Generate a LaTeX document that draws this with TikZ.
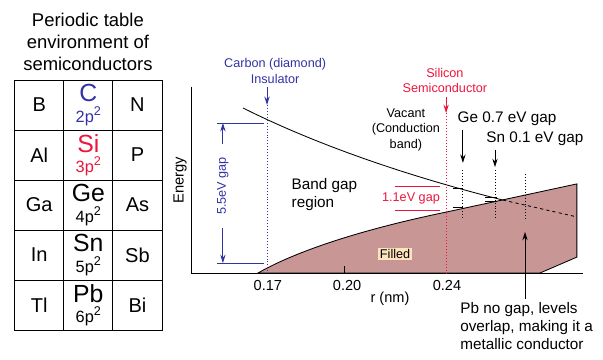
\documentclass[tikz,border=0pt]{standalone}
\usepackage{fontspec}
\setmainfont{Liberation Sans}
\usepackage{xcolor}
\usetikzlibrary{arrows.meta, positioning, calc}
\definecolor{insblue}{RGB}{50,50,165}
\definecolor{semired}{RGB}{238,20,60}
\definecolor{fillband}{RGB}{201,150,150}
\definecolor{filltag}{RGB}{253,228,190}
\tikzset{
  cell/.style    = {rectangle, draw, thick, minimum width=1.637cm,
                    minimum height=1.667cm, inner sep=0pt, font=\fontsize{19}{20}\selectfont},
  elem/.style    = {cell, align=center, font=\fontsize{15.5}{19.5}\selectfont},
  note/.style    = {align=center, font=\fontsize{12}{15}\selectfont},
  bignote/.style = {align=left, font=\fontsize{14.5}{17}\selectfont},
  ticklab/.style = {font=\fontsize{13.8}{15}\selectfont},
  arrow/.style   = {thick, -{Stealth[length=8pt, width=5pt]}},
  level/.style   = {thick, dotted},
}
\newcommand{\bigsym}[1]{{\fontsize{23.5}{19.5}\selectfont #1}}
\newcommand{\shellsq}{\raisebox{6.5pt}{\fontsize{12}{12}\selectfont 2}}

\begin{document}
\begin{tikzpicture}
  \useasboundingbox (0,0) rectangle (20.1,-11.967);

  %% Title and table
  \node[align=center, font=\fontsize{17.5}{20.8}\selectfont] (title) at (2.93,-1.4)
       {Periodic table\\environment of\\semiconductors};

  \node[cell] (elB)  at (1.308,-3.5) {B};
  \node[elem, text=insblue] (elC) at (2.945,-3.5) {\bigsym{C}\\2p\shellsq};
  \node[cell] (elN)  at (4.582,-3.5) {N};

  \node[cell] (elAl) at (1.308,-5.167) {Al};
  \node[elem, text=semired] (elSi) at (2.945,-5.167) {\bigsym{Si}\\3p\shellsq};
  \node[cell] (elP)  at (4.582,-5.167) {P};

  \node[cell] (elGa) at (1.308,-6.833) {Ga};
  \node[elem] (elGe) at (2.945,-6.833) {\bigsym{Ge}\\4p\shellsq};
  \node[cell] (elAs) at (4.582,-6.833) {As};

  \node[cell] (elIn) at (1.308,-8.5) {In};
  \node[elem] (elSn) at (2.945,-8.5) {\bigsym{Sn}\\5p\shellsq};
  \node[cell] (elSb) at (4.582,-8.5) {Sb};

  \node[cell] (elTl) at (1.308,-10.167) {Tl};
  \node[elem] (elPb) at (2.945,-10.167) {\bigsym{Pb}\\6p\shellsq};
  \node[cell] (elBi) at (4.582,-10.167) {Bi};

  %% Filled band
  \draw[thick, fill=fillband] (8.6,-9.1) .. controls (10.0,-8.3) and (12.3,-7.6) .. (14.87,-7.07)
       -- (19.23,-6.13) -- (19.23,-8.57) -- (18.0,-9.1) -- cycle;

  %% Conduction band edge
  \draw[thick] (8.1,-3.6) .. controls (10.5,-4.8) and (13.5,-5.85) .. (16.77,-6.67);
  \draw[thick, dashed] (16.77,-6.67) -- (19.23,-7.23);

  %% Axes
  \coordinate (orig) at (6.39,-9.1);
  \coordinate (ytop) at (6.39,-2.9);
  \coordinate (xend) at (19.43,-9.1);
  \draw[thick] (ytop) -- (orig) -- (xend);
  \draw[thick] (11.47,-9.1) -- ++(0,0.23);
  \node[rotate=90, font=\fontsize{14}{15}\selectfont] (energy) at (6.0,-6.0) {Energy};
  \node[ticklab] (t17) at (8.93,-9.5)  {0.17};
  \node[ticklab] (t20) at (11.57,-9.5) {0.20};
  \node[ticklab] (t24) at (14.9,-9.5)  {0.24};
  \node[ticklab] (rnm) at (13.0,-9.97) {r (nm)};

  %% Carbon
  \node[note, text=insblue] (carbon) at (9.17,-2.37) {Carbon (diamond)\\Insulator};
  \coordinate (cTop) at (8.9,-3.5);
  \coordinate (cBot) at (8.9,-9.1);
  \draw[arrow, insblue] (carbon.south -| cTop) -- (cTop);
  \draw[level, insblue] (cTop) -- (cBot);

  \coordinate (gTopL) at (7.23,-4.1);
  \coordinate (gTopR) at (8.8,-4.1);
  \coordinate (gBotL) at (7.23,-8.77);
  \coordinate (gBotR) at (8.8,-8.77);
  \draw[thick, insblue] (gTopL) -- (gTopR);
  \draw[thick, insblue] (gBotL) -- (gBotR);
  \node[note, text=insblue, rotate=90, outer xsep=9pt] (gapC) at (7.43,-6.2) {5.5eV gap};
  \draw[arrow, insblue] (gapC.east) -- (gapC.east |- gTopL);
  \draw[arrow, insblue] (gapC.west) -- (gapC.west |- gBotL);

  %% Silicon
  \node[note, text=semired] (silicon) at (14.83,-2.68) {Silicon\\Semiconductor};
  \coordinate (sTop) at (14.87,-3.77);
  \coordinate (sBot) at (14.87,-9.1);
  \draw[arrow, semired] (silicon.south -| sTop) -- (sTop);
  \draw[level, semired] (sTop) -- (sBot);

  \coordinate (siTopL) at (13.17,-6.2);
  \coordinate (siTopR) at (14.67,-6.2);
  \coordinate (siBotL) at (13.17,-7.03);
  \coordinate (siBotR) at (14.67,-7.03);
  \draw[thick, semired] (siTopL) -- (siTopR);
  \draw[thick, semired] (siBotL) -- (siBotR);
  \node[note, text=semired] (gapSi) at (13.7,-6.6) {1.1eV gap};

  %% Region labels
  \node[note] (vacant) at (13.53,-4.33) {Vacant\\(Conduction\\band)};
  \node[bignote, anchor=west] (bandgap) at (9.6,-6.5) {Band gap\\region};
  \node[note, fill=filltag, inner sep=1.5pt] (filled) at (13.17,-8.47) {Filled};

  %% Ge, Sn, Pb
  \node[bignote] (geNote) at (16.9,-3.97)  {Ge 0.7 eV gap};
  \node[bignote] (snNote) at (17.83,-4.63) {Sn 0.1 eV gap};
  \coordinate (geTip) at (15.43,-5.43);
  \coordinate (snTip) at (16.5,-5.57);
  \draw[arrow] (geNote.south -| geTip) -- (geTip);
  \draw[arrow] (snNote.south -| snTip) -- (snTip);
  \draw[level] (15.43,-5.67) -- (15.43,-7.33);
  \draw[level] (16.5,-5.67)  -- (16.5,-7.33);
  \draw[level] (17.53,-5.8)  -- (17.53,-7.33);
  \draw[thick] (15.1,-6.27)  -- (15.43,-6.27);
  \draw[thick] (15.1,-6.93)  -- (15.43,-6.93);
  \draw[thick] (16.17,-6.58) -- (16.57,-6.58);
  \draw[thick] (16.17,-6.72) -- (16.57,-6.72);

  \node[bignote, anchor=west] (pbNote) at (15.22,-10.87)
       {Pb no gap, levels\\overlap, making it a\\metallic conductor};
  \coordinate (pbTip) at (17.5,-7.73);
  \draw[arrow] (pbNote.north -| pbTip) -- (pbTip);

\end{tikzpicture}
\end{document}
